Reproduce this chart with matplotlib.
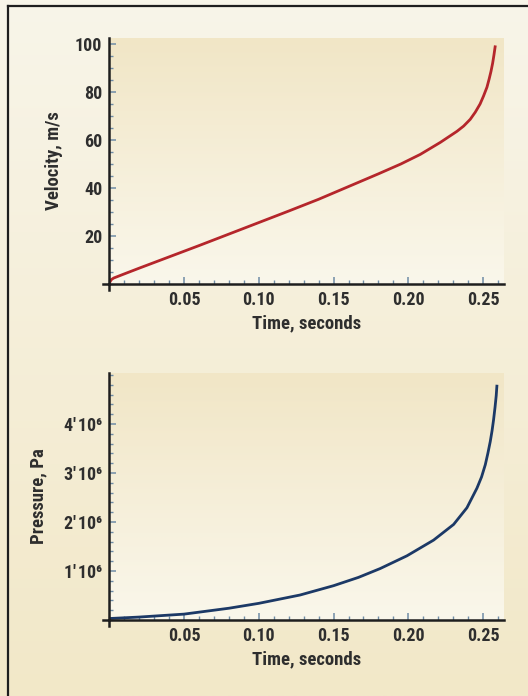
import numpy as np
import matplotlib
matplotlib.use("Agg")
import matplotlib.pyplot as plt
from matplotlib import font_manager
from matplotlib.ticker import MultipleLocator, FuncFormatter
from matplotlib.lines import Line2D

# ---------------- data ----------------
vel_t = [0, 0.0005, 0.0015, 0.003, 0.01, 0.02, 0.04, 0.06, 0.08, 0.10, 0.12,
         0.14, 0.16, 0.18, 0.195, 0.208, 0.2214, 0.2325, 0.2370, 0.2414, 0.2448,
         0.248, 0.2503, 0.2526, 0.2541, 0.2553, 0.2564, 0.2573, 0.2582]
vel_v = [0, 1.0, 1.9, 2.5, 4.2, 6.6, 11.3, 16.0, 20.8, 25.6, 30.4,
         35.3, 40.6, 45.9, 50.0, 54.0, 59.0, 63.6, 65.8, 68.6, 71.6,
         75.0, 78.3, 82.0, 85.5, 88.6, 92.0, 95.5, 99.4]

pre_t = [0, 0.02, 0.05, 0.08, 0.10, 0.1276, 0.15, 0.1667, 0.1812, 0.1991,
         0.2169, 0.2303, 0.2392, 0.2459, 0.2490, 0.2515, 0.2532, 0.2548,
         0.2560, 0.2570, 0.2580, 0.2588, 0.2593]
pre_p = [0.03e6, 0.06e6, 0.12e6, 0.24e6, 0.34e6, 0.51e6, 0.70e6, 0.87e6, 1.05e6,
         1.31e6, 1.63e6, 1.95e6, 2.29e6, 2.69e6, 2.92e6, 3.17e6, 3.40e6, 3.64e6,
         3.86e6, 4.08e6, 4.34e6, 4.58e6, 4.80e6]

x_ticks = [0.05, 0.10, 0.15, 0.20, 0.25]
vel_yticks = [20, 40, 60, 80, 100]
pre_yticks = [1e6, 2e6, 3e6, 4e6]

# ---------------- fonts ----------------
names = {f.name for f in font_manager.fontManager.ttflist}
main_font = None
for cand in ["Liberation Sans Narrow", "Roboto Condensed", "Open Sans Condensed",
             "Liberation Sans", "Roboto"]:
    if cand in names:
        main_font = cand
        break
fam = [main_font, "DejaVu Sans"] if main_font else ["DejaVu Sans"]
plt.rcParams['font.family'] = fam

TXT = "#2e2e2e"
TICKC = "#6f8ca6"

fig = plt.figure(figsize=(5.28, 6.96), dpi=100)

# figure background gradient
bg = fig.add_axes([0, 0, 1, 1], zorder=-10)
grad = np.linspace(0, 1, 256).reshape(-1, 1)
c_top = np.array([0xf8, 0xf5, 0xe9]) / 255
c_bot = np.array([0xf2, 0xe8, 0xc8]) / 255
img = c_top[None, None, :] * (1 - grad[:, :, None]) + c_bot[None, None, :] * grad[:, :, None]
bg.imshow(img, aspect='auto', extent=[0, 1, 0, 1], origin='upper')
bg.set_xlim(0, 1); bg.set_ylim(0, 1)
bg.axis('off')
W, H = 528, 696
bg.add_line(Line2D([8 / W, 8 / W], [0, 1 - 6 / H], color="#1e1e1e", lw=1.6))
bg.add_line(Line2D([8 / W, 1], [1 - 6 / H, 1 - 6 / H], color="#1e1e1e", lw=1.6))

ax_top_c = np.array([0xf1, 0xe6, 0xc6]) / 255
ax_bot_c = np.array([0xfa, 0xf7, 0xeb]) / 255
ax_img = ax_top_c[None, None, :] * (1 - grad[:, :, None]) + ax_bot_c[None, None, :] * grad[:, :, None]


def style_axes(ax, ylim, major_y, minor_y):
    ax.set_xlim(0, 0.264)
    ax.set_ylim(*ylim)
    ax.imshow(ax_img, aspect='auto', extent=[0, 0.264, ylim[0], ylim[1]],
              origin='upper', zorder=0)
    ax.set_facecolor('none')
    for s in ['top', 'right']:
        ax.spines[s].set_visible(False)
    for s in ['left', 'bottom']:
        ax.spines[s].set_color("#1e1e1e")
        ax.spines[s].set_linewidth(1.8)
        ax.spines[s].set_zorder(5)
    ax.xaxis.set_minor_locator(MultipleLocator(0.01))
    ax.set_xticks(x_ticks)
    ax.set_xticklabels([f"{v:.2f}" for v in x_ticks])
    ax.yaxis.set_minor_locator(MultipleLocator(minor_y))
    ax.set_yticks(major_y)
    ax.tick_params(which='major', direction='in', length=5, width=1.1,
                   color=TICKC, labelsize=13, labelcolor=TXT, pad=5)
    ax.tick_params(which='minor', direction='in', length=3, width=1.0, color=TICKC)
    ax.add_line(Line2D([-0.016, 0], [0, 0], transform=ax.transAxes, color="#1e1e1e",
                       lw=1.8, clip_on=False, zorder=6))
    ax.add_line(Line2D([0, 0], [-0.025, 0], transform=ax.transAxes, color="#1e1e1e",
                       lw=1.8, clip_on=False, zorder=6))


def finish_labels(ax, xlabel, ylabel, ylab_x):
    for lab in ax.get_xticklabels() + ax.get_yticklabels():
        lab.set_fontweight('bold')
    ax.set_xlabel(xlabel, fontsize=13.5, color=TXT, fontweight='bold')
    ax.set_ylabel(ylabel, fontsize=13.5, color=TXT, fontweight='bold')
    ax.xaxis.set_label_coords(0.5, -0.125)
    ax.yaxis.set_label_coords(ylab_x, 0.5)


# top: velocity
ax1 = fig.add_axes([109.3 / W, 1 - 284 / H, (504 - 109.3) / W, 246 / H])
style_axes(ax1, (0, 102.5), vel_yticks, 5)
ax1.plot(vel_t, vel_v, color="#b5262b", lw=2.0, zorder=4, solid_capstyle='butt',
         solid_joinstyle='round')
finish_labels(ax1, "Time, seconds", "Velocity, m/s", -0.117)

# bottom: pressure
ax2 = fig.add_axes([109.3 / W, 1 - 620 / H, (504 - 109.3) / W, 247 / H])
style_axes(ax2, (0, 5.04e6), pre_yticks, 0.2e6)
ax2.plot(pre_t, pre_p, color="#1c3966", lw=2.0, zorder=4, solid_capstyle='butt',
         solid_joinstyle='round')
ax2.yaxis.set_major_formatter(FuncFormatter(lambda v, p: f"{int(round(v / 1e6))}'\u200a10\u2076"))
finish_labels(ax2, "Time, seconds", "Pressure, Pa", -0.158)

fig.savefig("out.png", dpi=100)
